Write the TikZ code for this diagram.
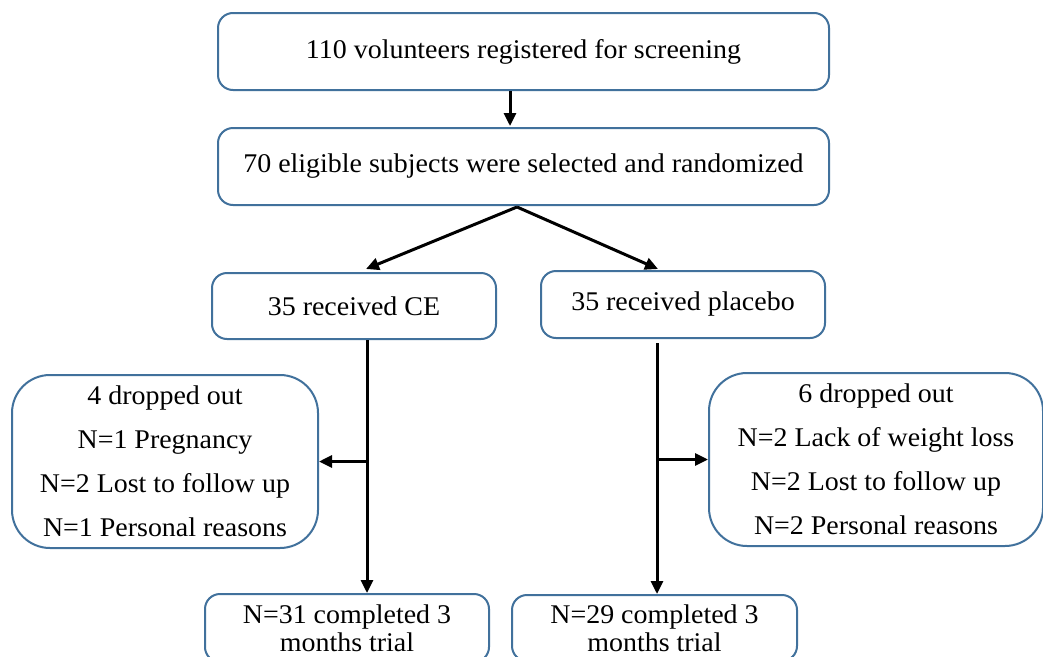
\documentclass[tikz,border=0pt]{standalone}
\usepackage{fontspec}
\setmainfont[FakeStretch=1.035]{Liberation Serif}
\usetikzlibrary{arrows.meta}
\definecolor{boxblue}{HTML}{41719C}
\begin{document}
\begin{tikzpicture}[x=1pt,y=-1pt,
  box/.style={draw=boxblue, line width=2pt, rounded corners=15pt, align=center,
              inner sep=0pt, font=\fontsize{27}{28}\selectfont},
  dropbox/.style={box, rounded corners=38pt, font=\fontsize{27}{44}\selectfont},
  flow/.style={line width=3pt, -{Triangle[length=13pt,width=12pt]}}]
\useasboundingbox (0,0) rectangle (1043,656);
\fill[white] (0,0) rectangle (1043,656);

% main stages
\node[box, minimum width=611pt, minimum height=77pt] (reg) at (523.5,51.5)
  {110 volunteers registered for screening};
\node[box, minimum width=611pt, minimum height=77pt] (rand) at (523.5,166.5)
  {70 eligible subjects were selected and randomized};
\node[box, minimum width=284pt, minimum height=66pt] (ce) at (354,306)
  {35 received CE};
\node[box, minimum width=284pt, minimum height=67pt] (pl) at (683,304.5)
  {35 received placebo};

% drop-outs
\node[dropbox, minimum width=306pt, minimum height=173pt] (dl) at (165,461.5)
  {4 dropped out\\N=1 Pregnancy\\N=2 Lost to follow up\\N=1 Personal reasons};
\node[dropbox, minimum width=334pt, minimum height=173pt] (dr) at (876,459.5)
  {6 dropped out\\N=2 Lack of weight loss\\N=2 Lost to follow up\\N=2 Personal reasons};

% completers
\node[box, minimum width=284pt, minimum height=68pt] (cc) at (347,628)
  {N=31 completed 3\\months trial};
\node[box, minimum width=285pt, minimum height=66pt] (pc) at (654.5,628)
  {N=29 completed 3\\months trial};

% connectors
\draw[flow] ([xshift=-13.5pt]reg.south) -- ([xshift=-13.5pt,yshift=1pt]rand.north);
\coordinate (split) at ([xshift=-6.5pt,yshift=-1pt]rand.south);
\draw[flow] (split) -- ([xshift=12pt,yshift=3pt]ce.north);
\draw[flow] (split) -- ([xshift=-25pt,yshift=1pt]pl.north);

\coordinate (lx) at (367,0);
\draw[flow] (ce.south -| lx) -- (cc.north -| lx);
\draw[flow] (dl.east -| lx) -- (dl.east);

\coordinate (rx) at (657,0);
\draw[flow] ([yshift=-4pt]pl.south -| rx) -- (pc.north -| rx);
\draw[flow] (dr.west -| rx) -- (dr.west);
\end{tikzpicture}
\end{document}
